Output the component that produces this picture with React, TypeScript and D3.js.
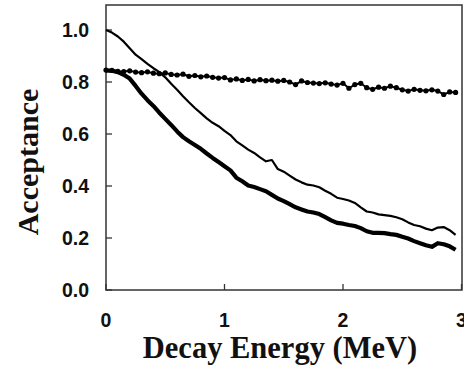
import React from "react";
import * as d3 from "d3";

const energy = [
  0.0, 0.05, 0.1, 0.15, 0.2, 0.25, 0.3, 0.35, 0.4, 0.45,
  0.5, 0.55, 0.6, 0.65, 0.7, 0.75, 0.8, 0.85, 0.9, 0.95,
  1.0, 1.05, 1.1, 1.15, 1.2, 1.25, 1.3, 1.35, 1.4, 1.45,
  1.5, 1.55, 1.6, 1.65, 1.7, 1.75, 1.8, 1.85, 1.9, 1.95,
  2.0, 2.05, 2.1, 2.15, 2.2, 2.25, 2.3, 2.35, 2.4, 2.45,
  2.5, 2.55, 2.6, 2.65, 2.7, 2.75, 2.8, 2.85, 2.9, 2.95,
];

const thinSeries = [
  1.0, 0.99, 0.975, 0.955, 0.93, 0.905, 0.888, 0.87, 0.853, 0.838,
  0.818, 0.793, 0.77, 0.745, 0.722, 0.7, 0.68, 0.66, 0.643, 0.63,
  0.612, 0.596, 0.572, 0.556, 0.54, 0.527, 0.51, 0.495, 0.5, 0.465,
  0.455, 0.44, 0.425, 0.414, 0.405, 0.402, 0.395, 0.382, 0.37, 0.355,
  0.35, 0.344, 0.335, 0.318, 0.302, 0.298, 0.291, 0.288, 0.285, 0.28,
  0.272, 0.26, 0.25, 0.245, 0.236, 0.23, 0.24, 0.242, 0.23, 0.212,
];

const thickSeries = [
  0.845, 0.843, 0.838, 0.828, 0.813, 0.785, 0.755, 0.73, 0.708, 0.682,
  0.658, 0.635, 0.61, 0.588, 0.572, 0.558, 0.543, 0.525, 0.508, 0.492,
  0.476, 0.46, 0.432, 0.418, 0.402, 0.396, 0.388, 0.38, 0.366, 0.352,
  0.342, 0.33, 0.318, 0.31, 0.302, 0.298, 0.292, 0.28, 0.268, 0.258,
  0.255, 0.25, 0.246, 0.238, 0.226, 0.22, 0.22, 0.219, 0.215, 0.212,
  0.205, 0.198, 0.188, 0.18, 0.172, 0.166, 0.18, 0.176, 0.168, 0.155,
];

const dottedSeries = [
  0.846, 0.845, 0.841, 0.84, 0.843, 0.838, 0.836, 0.839, 0.834, 0.832,
  0.835, 0.829, 0.827, 0.83, 0.822, 0.825, 0.82, 0.823, 0.818, 0.815,
  0.817, 0.808, 0.812, 0.806, 0.81, 0.804, 0.809, 0.805, 0.807, 0.803,
  0.806, 0.8, 0.79, 0.804, 0.798, 0.796, 0.794, 0.797, 0.792, 0.788,
  0.795, 0.776, 0.79, 0.795, 0.778, 0.772, 0.78, 0.776, 0.784, 0.778,
  0.77, 0.765, 0.772, 0.768, 0.766, 0.77, 0.765, 0.752, 0.762, 0.76,
];

const xTicks = [0, 1, 2, 3];
const yTicks = [0.0, 0.2, 0.4, 0.6, 0.8, 1.0];

export default function App() {
  const left = 106, right = 462, top = 5, bottom = 290;
  const x = d3.scaleLinear().domain([0, 3]).range([left, 461.5]);
  const y = d3.scaleLinear().domain([0, 1.1]).range([bottom, bottom - 286]);

  const line = (vals: number[]) =>
    d3.line<number>().x((_, i) => x(energy[i])).y((v) => y(v))(vals) || "";

  const tickFont = "'Liberation Sans', Arial, sans-serif";
  const titleFont = "'Liberation Serif', 'Times New Roman', serif";

  return (
    <svg
      width={464}
      height={370}
      style={{ position: "absolute", left: 0, top: 0, background: "#fff" }}
    >
      <rect x={0} y={0} width={464} height={370} fill="#fff" />
      <rect
        x={left}
        y={top}
        width={right - left}
        height={bottom - top}
        fill="none"
        stroke="#333"
        strokeWidth={1.5}
      />
      {yTicks.map((t) => (
        <g key={"y" + t}>
          <line x1={left} x2={left + 6} y1={y(t)} y2={y(t)} stroke="#333" strokeWidth={1.3} />
          <text
            x={89}
            y={y(t)}
            dy="0.36em"
            textAnchor="end"
            fontFamily={tickFont}
            fontWeight="bold"
            fontSize={19.5}
            fill="#111"
          >
            {t.toFixed(1)}
          </text>
        </g>
      ))}
      {xTicks.map((t) => (
        <g key={"x" + t}>
          <line x1={x(t)} x2={x(t)} y1={bottom} y2={bottom - 6} stroke="#333" strokeWidth={1.3} />
          <text
            x={x(t)}
            y={327}
            textAnchor="middle"
            fontFamily={tickFont}
            fontWeight="bold"
            fontSize={19.5}
            fill="#111"
          >
            {t}
          </text>
        </g>
      ))}
      <path d={line(thinSeries)} fill="none" stroke="#000" strokeWidth={2.2} strokeLinejoin="round" />
      <path d={line(thickSeries)} fill="none" stroke="#000" strokeWidth={4.2} strokeLinejoin="round" />
      <path d={line(dottedSeries)} fill="none" stroke="#000" strokeWidth={2} strokeLinejoin="round" />
      {dottedSeries.map((v, i) => (
        <circle key={"d" + i} cx={x(energy[i])} cy={y(v)} r={2.6} fill="#000" />
      ))}
      <text
        x={280}
        y={358}
        textAnchor="middle"
        fontFamily={titleFont}
        fontWeight="bold"
        fontSize={30.5}
        fill="#111"
      >
        Decay Energy (MeV)
      </text>
      <text
        transform="translate(38,162) rotate(-90)"
        textAnchor="middle"
        fontFamily={titleFont}
        fontWeight="bold"
        fontSize={30}
        fill="#111"
      >
        Acceptance
      </text>
    </svg>
  );
}
